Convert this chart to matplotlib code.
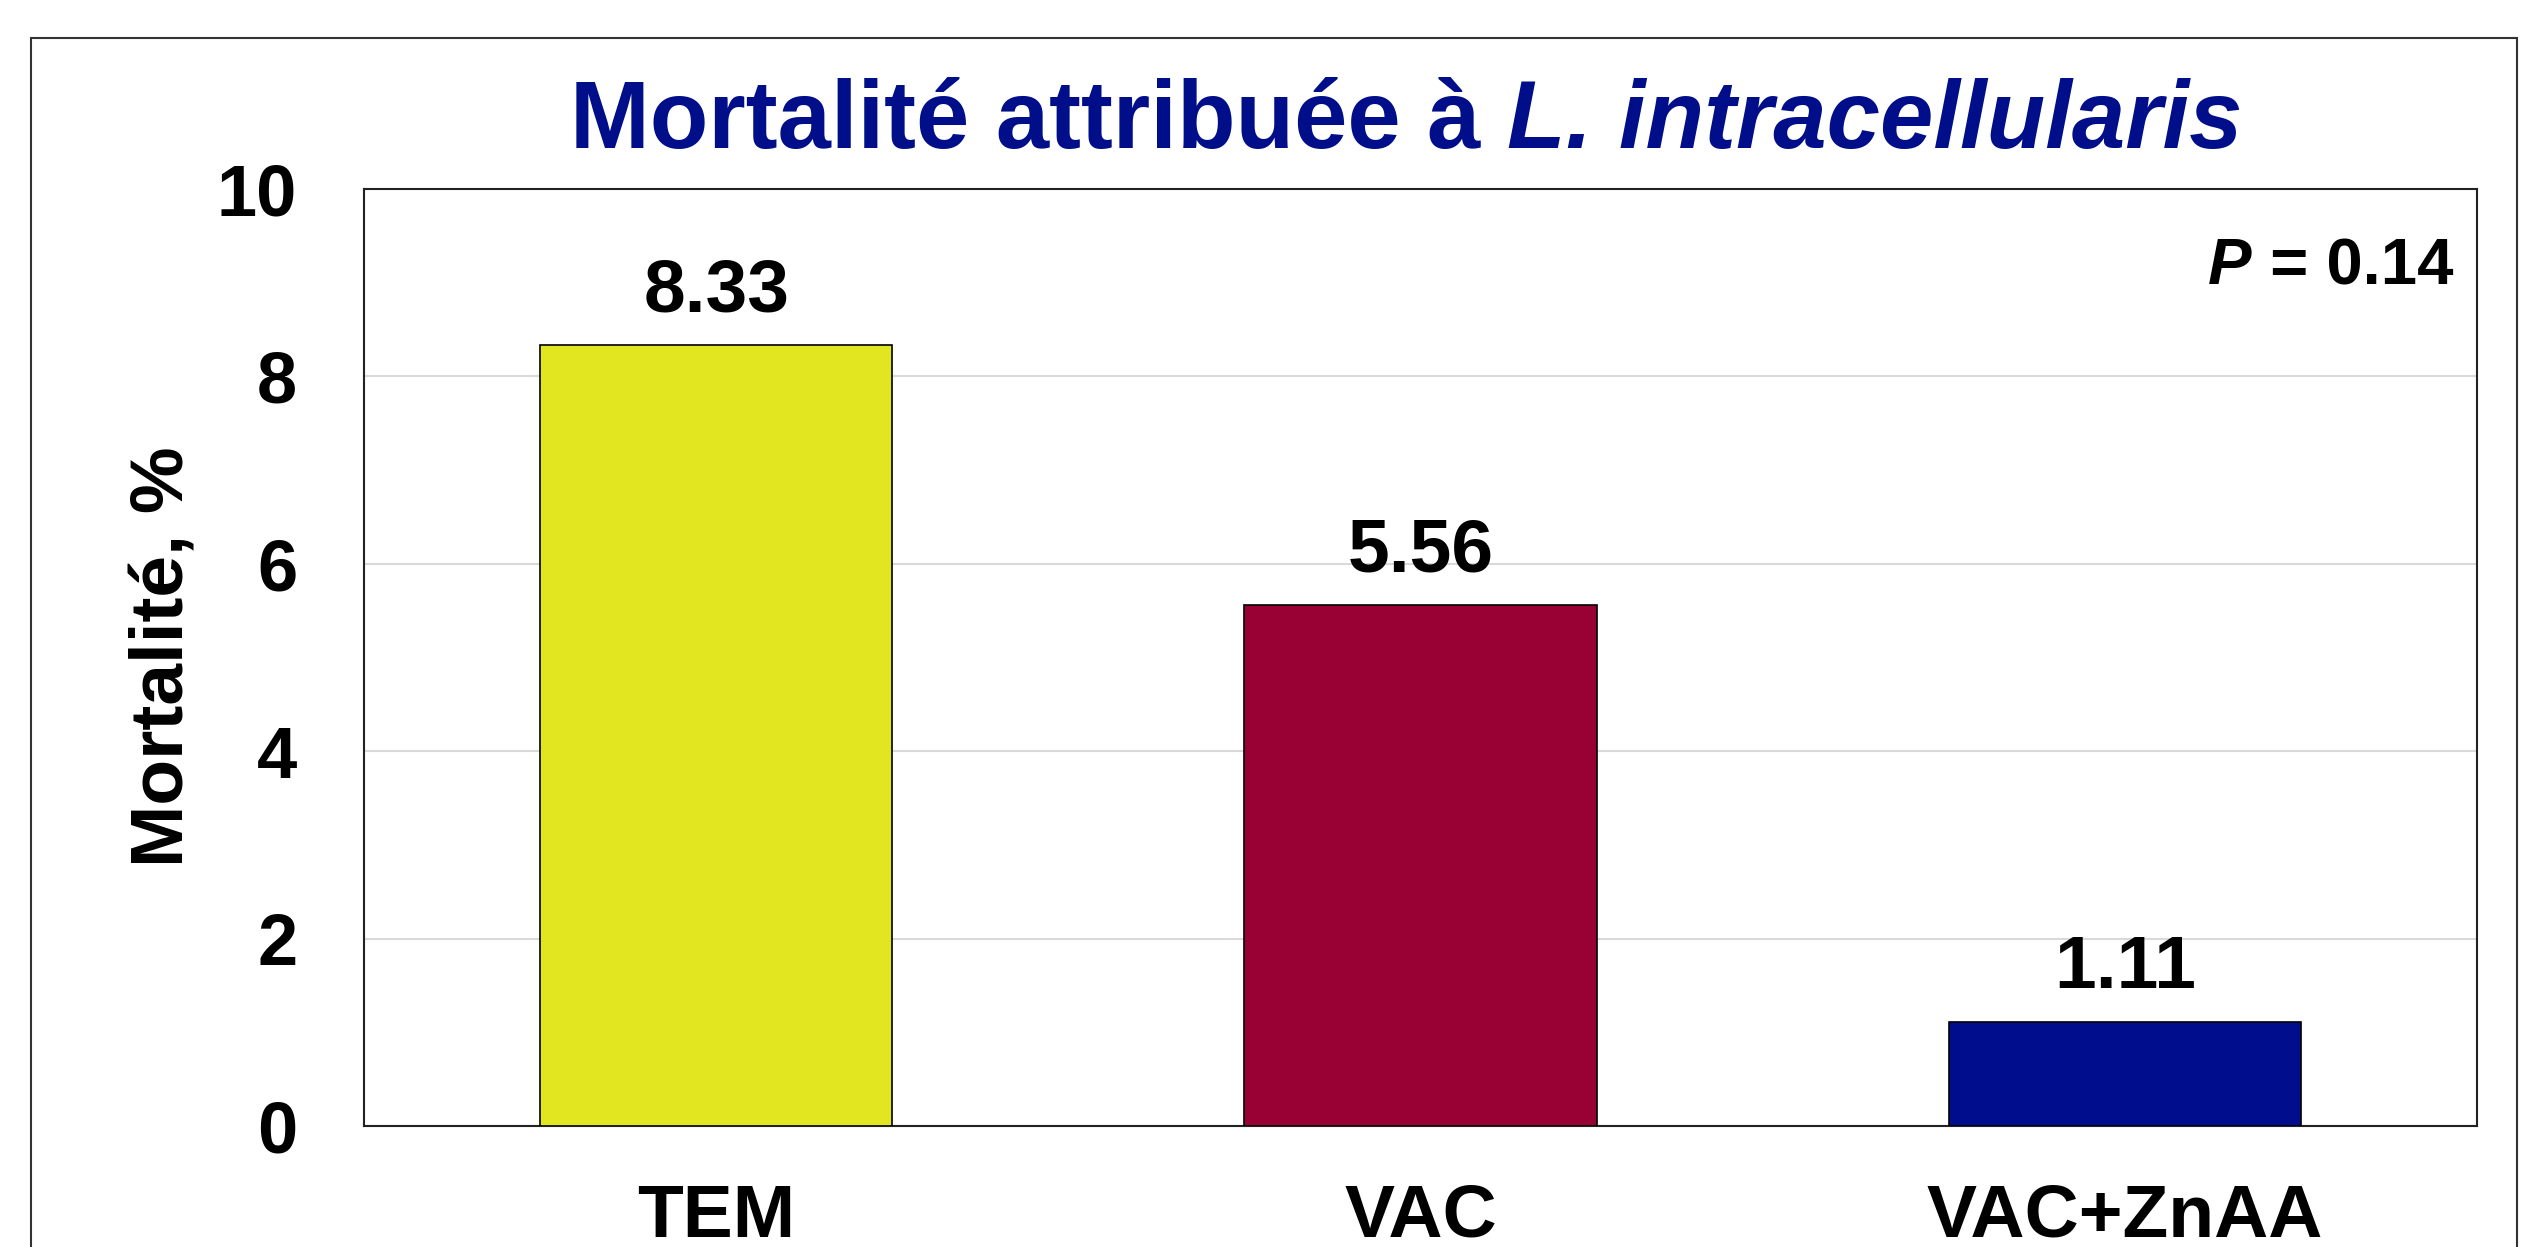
import matplotlib
matplotlib.use('Agg')
import matplotlib.pyplot as plt
from matplotlib.patches import Rectangle

plt.rcParams['font.family'] = ['Liberation Sans', 'DejaVu Sans']
plt.rcParams['font.weight'] = 'bold'

# data
groups = ['TEM', 'VAC', 'VAC+ZnAA']
mortality = [8.33, 5.56, 1.11]
value_labels = ['8.33', '5.56', '1.11']
bar_colors = ['#E1E620', '#990033', '#000E8E']
yticks = [0, 2, 4, 6, 8, 10]

W, H = 2534, 1247
fig = plt.figure(figsize=(W / 100, H / 100), dpi=100)

# axes placed in pixel coords of the reference
left, right, top, bottom = 364, 2477, 189, 1126
ax = fig.add_axes([left / W, 1 - bottom / H, (right - left) / W, (bottom - top) / H])

x = range(len(groups))
ax.bar(x, mortality, width=0.5, color=bar_colors, edgecolor='black', linewidth=1.2, zorder=3)
for i, v in enumerate(mortality):
    ax.text(i, v + 0.2, value_labels[i], ha='center', va='bottom', fontsize=54, fontweight='bold')

ax.set_xlim(-0.5, 2.5)
ax.set_ylim(0, 10)
ax.set_yticks(yticks)
ax.set_yticklabels([str(t) for t in yticks], fontsize=52, fontweight='bold')
ax.set_xticks(list(x))
ax.set_xticklabels(groups, fontsize=54, fontweight='bold')
ax.tick_params(axis='y', length=0, pad=48)
ax.tick_params(axis='x', length=0, pad=41)
ax.grid(axis='y', color='#d9d9d9', linewidth=1.5, zorder=0)
for s in ax.spines.values():
    s.set_linewidth(1.5)
    s.set_color('#222222')

# y label
fig.text(164 / W, 1 - 657 / H, 'Mortalité, %', rotation=90, ha='center', va='center',
         fontsize=54, fontweight='bold')

# P value, P in italic
fig.canvas.draw()
r = fig.canvas.get_renderer()
p_x, p_y = 2453 / W, 1 - 267 / H
t2 = fig.text(p_x, p_y, ' = 0.14', ha='right', va='center', fontsize=47, fontweight='bold')
w2 = t2.get_window_extent(r).width / W
fig.text(p_x - w2, p_y, 'P', ha='right', va='center', fontsize=47, fontweight='bold', style='italic')

# title, species name in italic
title_color = '#000E8A'
ty = 1 - 123 / H
a = fig.text(0, ty, 'Mortalité attribuée à ', ha='left', va='center', fontsize=69,
             fontweight='bold', color=title_color)
b = fig.text(0, ty, 'L. intracellularis', ha='left', va='center', fontsize=69,
             fontweight='bold', style='italic', color=title_color)
wa = a.get_window_extent(r).width / W
wb = b.get_window_extent(r).width / W
x0 = 1406 / W - (wa + wb) / 2
a.set_x(x0)
b.set_x(x0 + wa)

# outer frame, open at the bottom of the image
fig.add_artist(Rectangle((31 / W, -0.1), (2517 - 31) / W, 1.1 - 38 / H,
                         transform=fig.transFigure, fill=False,
                         edgecolor='#333333', linewidth=1.5))

fig.savefig('out.png', dpi=100)
